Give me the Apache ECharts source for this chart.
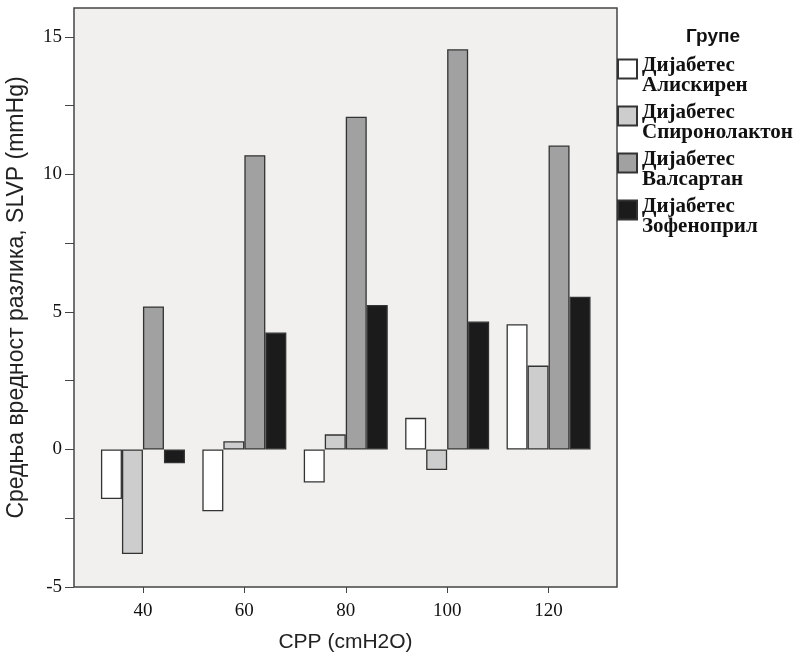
<!DOCTYPE html>
<html>
<head>
<meta charset="utf-8">
<title>SLVP</title>
<script src="https://cdn.jsdelivr.net/npm/echarts@6/dist/echarts.min.js"></script>
<style>
  html, body { margin: 0; padding: 0; background: #fff; }
  #chart { width: 795px; height: 656px; }
</style>
</head>
<body>
<div id="chart"></div>
<script>
// CPP (cmH2O) values on the x axis
var cppValues = [40, 60, 80, 100, 120]
var yLabels = [-5, 0, 5, 10, 15]
var yTicks = [-5, -2.5, 0, 2.5, 5, 7.5, 10, 12.5, 15]

var groupNames = [
  'Дијабетес\nАлискирен',
  'Дијабетес\nСпиронолактон',
  'Дијабетес\nВалсартан',
  'Дијабетес\nЗофеноприл'
]
var aliskirenData = [-1.8, -2.25, -1.2, 1.15, 4.55]
var spironolactoneData = [-3.8, 0.3, 0.55, -0.75, 3.05]
var valsartanData = [5.2, 10.7, 12.1, 14.55, 11.05]
var zofenoprilData = [-0.5, 4.25, 5.25, 4.65, 5.55]

var barColors = ['#ffffff', '#cdcdcd', '#a1a1a1', '#1b1b1b']

function pairs(values) {
  return cppValues.map(function(x, i) {
    return [x, values[i]]
  })
}

function makeSeries(name, values, color) {
  return {
    name: name,
    type: 'bar',
    barWidth: 21,
    barGap: '0%',
    itemStyle: {
      color: color,
      borderColor: '#333',
      borderWidth: 1.3
    },
    data: pairs(values)
  }
}

var chart = echarts.init(document.getElementById('chart'))

chart.setOption({
  backgroundColor: '#ffffff',
  animation: false,
  title: {
    text: 'Групе',
    left: 708,
    top: 22,
    textAlign: 'center',
    textStyle: {
      fontFamily: 'Liberation Sans',
      fontSize: 19,
      fontWeight: 'bold',
      color: '#111'
    }
  },
  legend: {
    orient: 'vertical',
    left: 617,
    top: 48.5,
    padding: 0,
    icon: 'rect',
    itemWidth: 19,
    itemHeight: 19,
    itemGap: -0.5,
    // small empty first line so the box sits near the top of the two-line name
    formatter: function(name) {
      return '{p| }\n' + name.split('\n').map(function(l) {
        return '{t|' + l + '}'
      }).join('\n')
    },
    textStyle: {
      color: '#111',
      rich: {
        p: { fontSize: 1, lineHeight: 13 },
        t: {
          fontFamily: 'Liberation Serif',
          fontWeight: 'bold',
          fontSize: 21,
          lineHeight: 20,
          color: '#111'
        }
      }
    },
    data: groupNames
  },
  grid: {
    left: 74,
    right: 178,
    top: 8,
    bottom: 69,
    outerBoundsMode: 'none',
    show: true,
    backgroundColor: '#f1f0ef',
    borderColor: '#444',
    borderWidth: 1.5
  },
  xAxis: {
    type: 'value',
    min: 26.4,
    max: 133.5,
    name: 'CPP (cmH2O)',
    nameLocation: 'middle',
    nameGap: 45,
    nameTextStyle: {
      fontFamily: 'Liberation Sans',
      fontSize: 21,
      color: '#222'
    },
    axisLine: { show: false, onZero: false },
    axisTick: {
      show: true,
      length: 6,
      customValues: cppValues,
      lineStyle: { color: '#444' }
    },
    axisLabel: {
      margin: 15,
      customValues: cppValues,
      fontFamily: 'Liberation Serif',
      fontSize: 19,
      color: '#111'
    },
    splitLine: { show: false }
  },
  yAxis: {
    type: 'value',
    min: -5,
    max: 16.05,
    name: 'Средња вредност разлика, SLVP (mmHg)',
    nameLocation: 'middle',
    nameGap: 46,
    nameTextStyle: {
      fontFamily: 'Liberation Sans',
      fontSize: 23,
      color: '#222'
    },
    axisLine: { show: false, onZero: false },
    axisTick: {
      show: true,
      length: 9,
      customValues: yTicks,
      lineStyle: { color: '#444' }
    },
    axisLabel: {
      margin: 12,
      customValues: yLabels,
      fontFamily: 'Liberation Serif',
      fontSize: 19,
      color: '#111'
    },
    splitLine: { show: false }
  },
  series: [
    makeSeries(groupNames[0], aliskirenData, barColors[0]),
    makeSeries(groupNames[1], spironolactoneData, barColors[1]),
    makeSeries(groupNames[2], valsartanData, barColors[2]),
    makeSeries(groupNames[3], zofenoprilData, barColors[3])
  ]
})
</script>
</body>
</html>
